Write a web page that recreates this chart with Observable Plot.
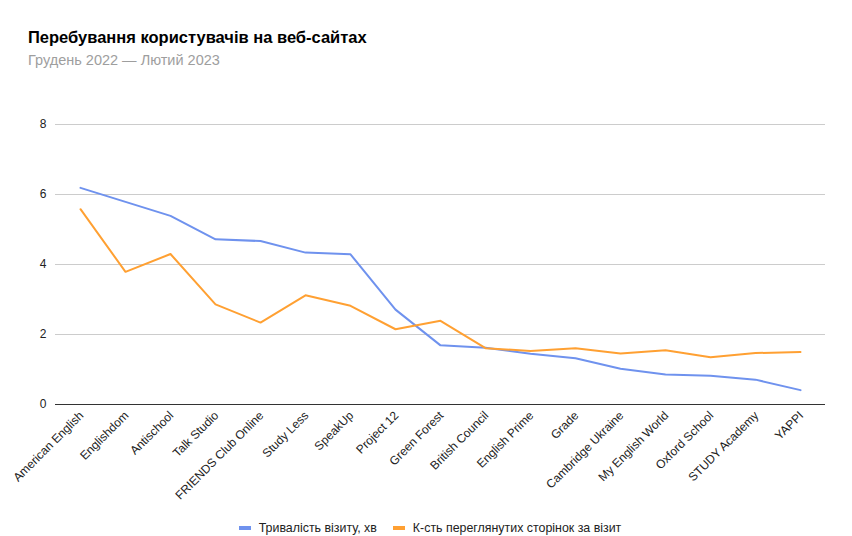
<!DOCTYPE html>
<html><head><meta charset="utf-8">
<script src="https://cdn.jsdelivr.net/npm/d3@7"></script>
<script src="https://cdn.jsdelivr.net/npm/@observablehq/plot@0.6"></script>
<style>
body{margin:0;background:#fff;font-family:"Liberation Sans",Arial,sans-serif}
#wrap{width:852px;height:536px;position:relative;overflow:hidden}
#head{height:100px;position:relative}
#title{position:absolute;left:28px;top:28px;font-weight:bold;font-size:16.5px;color:#000;white-space:nowrap}
#sub{position:absolute;left:28px;top:52px;font-size:14.5px;color:#9e9e9e;white-space:nowrap}
#legend{position:absolute;left:0;top:521px;width:852px;display:flex;justify-content:center;align-items:center;font-size:12.4px;color:#222;padding-left:8px;box-sizing:border-box}
.item{display:flex;align-items:center;margin:0 8px}
.sw{width:12px;height:4px;margin-right:8px}
svg{display:block}
</style></head>
<body><div id="wrap">
<div id="head"><div id="title">Перебування користувачів на веб-сайтах</div><div id="sub">Грудень 2022 — Лютий 2023</div></div>
<div id="chart"></div>
<div id="legend"></div>
</div>
<script>
const categories = ["American English","Englishdom","Antischool","Talk Studio","FRIENDS Club Online","Study Less","SpeakUp","Project 12","Green Forest","British Council","English Prime","Grade","Cambridge Ukraine","My English World","Oxford School","STUDY Academy","YAPPI"];
const duration = [6.19,5.79,5.39,4.72,4.67,4.34,4.29,2.71,1.69,1.62,1.45,1.32,1.02,0.86,0.82,0.71,0.41];
const pages = [5.58,3.79,4.30,2.86,2.34,3.12,2.82,2.15,2.39,1.61,1.53,1.61,1.46,1.55,1.35,1.47,1.50];
const seriesNames = ["Тривалість візиту, хв","К-сть переглянутих сторінок за візит"];
const seriesColors = ["#6f92ee","#ffa032"];
const yTicks = [0,2,4,6,8];

const data = [];
categories.forEach((c,i)=>{
  data.push({cat:c, value:duration[i], series:seriesNames[0]});
  data.push({cat:c, value:pages[i], series:seriesNames[1]});
});

const chart = Plot.plot({
  width:852, height:404,
  marginTop:24, marginBottom:100, marginLeft:55, marginRight:27,
  style:{fontFamily:"'Liberation Sans', Arial, sans-serif", fontSize:"12px", color:"#222", background:"#fff"},
  x:{type:"point", domain:categories, padding:0.5},
  y:{domain:[0,8]},
  color:{domain:seriesNames, range:seriesColors},
  marks:[
    Plot.gridY(yTicks.filter(d=>d>0), {stroke:"#cccccc", strokeOpacity:1}),
    Plot.axisY(yTicks, {tickSize:0, tickPadding:9, label:null, fontSize:12, fill:"#222"}),
    Plot.axisX({tickSize:0, tickPadding:9, dx:1, tickRotate:-45, label:null, fontSize:12, fill:"#222"}),
    Plot.ruleY([0], {stroke:"#333", strokeWidth:1}),
    Plot.line(data, {x:"cat", y:"value", stroke:"series", z:"series", strokeWidth:2})
  ]
});
document.getElementById("chart").appendChild(chart);

const lg = document.getElementById("legend");
seriesNames.forEach((n,i)=>{
  const it = document.createElement("div"); it.className="item";
  const sw = document.createElement("span"); sw.className="sw"; sw.style.background=seriesColors[i];
  const t = document.createElement("span"); t.textContent=n;
  it.appendChild(sw); it.appendChild(t); lg.appendChild(it);
});
</script>
</body></html>
